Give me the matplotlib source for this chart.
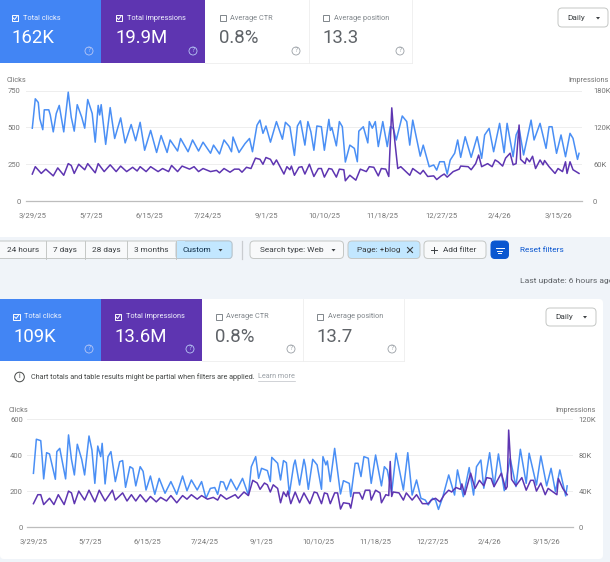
import matplotlib
matplotlib.use("Agg")
import matplotlib.pyplot as plt
from matplotlib.patches import Rectangle, FancyBboxPatch, Circle

plt.rcParams['font.family'] = ['Roboto', 'DejaVu Sans']

date_labels = ["3/29/25", "5/7/25", "6/15/25", "7/24/25", "9/1/25", "10/10/25", "11/18/25", "12/27/25", "2/4/26", "3/15/26"]
date_ticks = [0, 39, 78, 117, 156, 195, 234, 273, 312, 351]

top_clicks_days = [0,2,4,5,7,8,11,12,14,16,18,21,24,26,28,30,33,35,37,40,42,44,45,46,49,52,55,59,62,66,69,72,75,79,83,86,90,92,97,99,104,107,111,114,119,121,125,128,131,133,134,138,142,145,147,150,152,154,156,159,163,167,169,172,175,177,179,182,184,186,188,190,193,195,198,199,200,203,205,207,209,212,215,217,218,221,224,225,227,229,231,234,237,239,241,243,247,250,252,254,259,261,265,268,270,272,275,277,279,282,284,286,289,293,297,300,302,305,308,312,315,317,321,323,325,328,333,335,339,343,345,347,350,353,356,359,361,364,365]
top_clicks_values = [495,695,670,560,485,620,620,585,470,595,650,470,740,570,475,655,570,495,690,595,400,650,585,655,385,635,425,565,395,520,410,535,345,480,330,445,330,415,340,425,335,415,340,400,325,380,320,415,375,335,435,330,390,425,335,515,550,460,510,400,540,420,535,505,310,510,545,380,540,470,345,510,505,345,555,480,500,375,540,505,265,380,358,267,475,505,395,540,495,540,370,540,370,505,495,415,578,540,380,550,305,380,233,245,210,267,267,183,278,325,415,297,437,297,437,290,449,494,335,528,329,528,301,449,494,313,550,415,528,358,505,505,324,449,301,460,426,283,324]

top_impr_days = [0,2,6,9,14,17,21,24,26,28,31,35,37,42,44,48,52,56,59,63,67,70,72,76,79,84,87,91,93,97,100,105,108,111,114,119,123,125,128,132,135,138,140,143,146,149,152,154,156,159,161,163,168,170,172,173,175,178,180,182,185,188,191,193,195,198,200,203,205,208,209,212,216,219,223,225,228,231,233,236,238,240,241,244,246,252,254,259,261,264,268,270,273,275,277,281,285,286,291,293,296,298,300,304,307,309,311,314,316,319,321,323,325,326,329,330,332,334,336,339,341,342,345,349,351,354,356,357,359,361,365]
top_impr_values = [44,56,45,52,41,54,42,61,58,45,60,51,61,46,61,48,59,48,57,48,55,49,56,48,56,48,53,48,58,48,57,52,56,48,53,48,50,46,53,47,52,52,47,55,53,70,68,60,71,68,59,67,44,56,51,57,42,55,56,44,60,40,53,53,39,53,52,39,52,51,33,42,34,52,48,56,55,41,53,52,40,152,121,53,56,42,53,44,50,40,41,35,41,44,39,48,52,57,56,51,61,75,56,61,56,67,64,57,70,78,59,61,124,68,61,70,64,73,53,67,59,66,56,45,53,48,64,45,64,51,45]

bot_clicks_days = [0,2,5,6,7,9,11,13,15,16,18,22,24,26,28,30,33,35,38,40,42,44,46,47,49,51,53,56,59,61,63,66,68,70,73,75,77,80,83,86,90,94,98,102,105,108,112,115,118,121,124,126,128,130,132,135,139,143,147,149,152,154,156,160,162,163,167,169,171,173,175,178,179,182,185,186,188,191,194,197,198,200,201,203,206,210,212,216,217,220,222,224,226,229,231,234,238,240,242,245,248,253,256,259,262,265,268,270,273,275,277,280,284,288,290,294,298,301,303,306,308,312,315,318,322,326,330,333,337,339,344,347,351,354,357,360,364,365]
bot_clicks_values = [299,489,481,383,268,414,407,336,266,420,438,268,513,377,290,461,377,290,507,429,243,451,392,466,240,392,420,253,364,370,221,336,326,229,336,310,206,284,182,271,188,253,182,284,202,262,206,253,160,215,220,182,253,250,206,266,206,271,178,336,392,271,327,314,253,388,355,262,370,358,184,346,373,234,377,340,210,377,346,210,392,346,368,253,438,184,258,243,169,355,355,281,392,383,243,401,229,336,318,191,411,206,414,178,262,160,150,123,160,150,98,169,290,178,318,169,331,178,336,373,216,414,225,407,202,383,225,433,243,411,234,396,229,327,197,318,173,229]

bot_impr_days = [0,3,5,7,11,14,17,21,24,26,28,31,35,38,42,45,49,54,56,61,64,67,70,73,77,80,84,87,91,94,98,102,105,108,112,115,119,123,126,128,132,138,140,144,147,150,153,155,158,160,162,164,167,169,171,173,174,176,179,182,185,189,192,194,197,199,201,203,206,208,210,212,216,217,219,223,225,227,230,231,234,237,238,241,243,244,245,246,250,253,255,259,262,266,270,272,275,278,281,284,286,289,292,293,295,299,302,305,308,310,313,315,318,320,323,324,325,327,330,334,337,340,342,344,347,350,352,358,359,362,365]
bot_impr_values = [26,36,36,25,32,25,36,25,40,38,26,40,30,41,28,41,29,41,30,38,29,36,29,36,28,34,28,33,29,35,27,35,31,36,31,35,31,33,30,36,31,36,32,39,35,52,49,42,49,47,39,47,43,27,39,34,40,26,39,27,38,26,39,38,26,38,37,26,38,38,20,27,26,21,38,38,31,41,41,30,41,38,27,36,35,73,34,39,38,30,38,30,36,26,26,30,32,28,36,41,39,44,42,48,36,60,43,52,46,55,54,45,54,60,42,45,108,53,46,55,41,52,52,40,49,36,43,36,54,43,36]

BLUE = "#4285f4"
PURPLE = "#5e35b1"
LINE_BLUE = "#4a8ff5"
LINE_PURPLE = "#5e35b1"
GRAY = "#757575"
DARK = "#3c4043"
CHIP = 5.95

fig = plt.figure(figsize=(6.10, 5.62), dpi=100, facecolor="white")
ui = fig.add_axes([0, 0, 1, 1], zorder=0)
ui.set_xlim(0, 610)
ui.set_ylim(562, 0)
ui.axis("off")


def rect(x0, y0, x1, y1, fc, ec="none", lw=0.6, z=1):
    ui.add_patch(Rectangle((x0, y0), x1 - x0, y1 - y0, fc=fc, ec=ec, lw=lw, zorder=z))


def chip(x0, y0, x1, y1, fc="#ffffff", ec="#c4c7c5", r=4, z=3):
    ui.add_patch(FancyBboxPatch((x0 + r, y0 + r), x1 - x0 - 2 * r, y1 - y0 - 2 * r,
                                boxstyle=f"round,pad={r},rounding_size={r}", fc=fc, ec=ec, lw=0.7, zorder=z))


def label(x, y, s, size=5.4, color=DARK, ha="left", z=5, **kw):
    ui.text(x, y, s, fontsize=size, color=color, ha=ha, va="center", zorder=z, **kw)


def arrow(x, y, color=DARK):
    ui.fill([x - 2, x + 2, x], [y - 1, y - 1, y + 1.5], color=color, zorder=5, lw=0)


def checkbox(x, y, color, checked):
    ui.add_patch(Rectangle((x - 3.3, y - 3.3), 6.6, 6.6, fc="none", ec=color, lw=0.7, zorder=5))
    if checked:
        ui.plot([x - 1.8, x - 0.4, x + 1.9], [y, y + 1.5, y - 1.5], color=color, lw=0.7, zorder=6)


def help_icon(x, y, color):
    ui.add_patch(Circle((x, y), 4.0, fc="none", ec=color, lw=0.6, zorder=5))
    ui.text(x, y, "?", fontsize=4.8, color=color, ha="center", va="center", zorder=6)


def cards(y0, y1, edges, cy_label, cy_val, names, vals, check_x, lab_x, val_x, help_x, help_y):
    rect(edges[0], y0, edges[1], y1, BLUE)
    rect(edges[1], y0, edges[2], y1, PURPLE)
    rect(edges[2], y0, edges[4], y1, "white", z=1)
    ui.plot([edges[3], edges[3]], [y0, y1], color="#eeeeee", lw=0.6, zorder=2)
    ui.plot([edges[4], edges[4]], [y0, y1], color="#eeeeee", lw=0.6, zorder=2)
    ui.plot([edges[2], edges[4]], [y1, y1], color="#eeeeee", lw=0.6, zorder=2)
    for i in range(4):
        on = i < 2
        c = "white" if on else "#80868b"
        checkbox(check_x[i], cy_label, c, on)
        label(lab_x[i], cy_label, names[i], size=5.3, color="#f1f4fd" if on else "#80868b")
        label(val_x[i], cy_val, vals[i], size=13.4, color="white" if on else "#5f6368")
        help_icon(help_x[i], help_y, "#b8c8f5" if on else "#9aa0a6")


# backgrounds
rect(0, 237, 610, 562, "#f0f4f9", z=0)
ui.add_patch(FancyBboxPatch((4, 303), 595, 252, boxstyle="round,pad=4,rounding_size=4", fc="white", ec="none", zorder=0.5))

names = ["Total clicks", "Total impressions", "Average CTR", "Average position"]
cards(0, 62.5, [0, 101, 205, 308.5, 412], 18, 38, names, ["162K", "19.9M", "0.8%", "13.3"],
      [15, 119, 223, 326], [23, 127, 230, 334], [11.5, 115.5, 219, 323], [89, 193, 296, 400], 51)
cards(299, 361, [0, 101, 202, 303, 404], 317, 337, names, ["109K", "13.6M", "0.8%", "13.7"],
      [16.5, 118, 219, 320], [24.5, 125.5, 226.5, 328], [13.5, 114.5, 215.5, 316], [89, 190, 291, 392], 349)

# Daily buttons
chip(558, 8, 608, 27)
label(567.5, 18, "Daily", size=CHIP)
arrow(598, 18)
chip(546, 308, 596, 326)
label(555.5, 317, "Daily", size=CHIP)
arrow(585, 317)

# date-range segmented control
chip(-4, 241, 232, 258.5, fc="#f8f9fa")
ui.add_patch(FancyBboxPatch((179, 244), 50, 11.5, boxstyle="round,pad=3,rounding_size=3", fc="#c2e7ff", ec="#b5c4cf", lw=0.7, zorder=3.5))
rect(175.5, 241.3, 185, 258.2, "#c2e7ff", z=3.6)
for xd in [46, 84.5, 127, 175.5]:
    ui.plot([xd, xd], [241, 258.5], color="#c4c7c5", lw=0.7, zorder=4)
for cx, s in zip([23, 65, 106, 151, 197], ["24 hours", "7 days", "28 days", "3 months", "Custom"]):
    label(cx, 249.7, s, size=CHIP, ha="center", color="#0b2a44" if s == "Custom" else DARK)
arrow(220.5, 250)
ui.plot([241.5, 241.5], [241, 258.5], color="#c9ccd0", lw=0.9, zorder=2)

# filters
chip(250, 241, 343.5, 258.5, fc="#f8f9fa")
label(259.5, 249.7, "Search type: Web", size=CHIP)
arrow(333.5, 250)
chip(348, 241, 420, 258.5, fc="#c2e7ff")
label(357, 249.7, "Page: +blog", size=CHIP)
ui.plot([407.5, 412.5], [247.5, 252.5], color=DARK, lw=0.8, zorder=5)
ui.plot([407.5, 412.5], [252.5, 247.5], color=DARK, lw=0.8, zorder=5)
chip(424, 241, 486, 258.5, fc="#f8f9fa")
ui.plot([431, 437], [250, 250], color=DARK, lw=0.7, zorder=5)
ui.plot([434, 434], [247, 253], color=DARK, lw=0.7, zorder=5)
label(443, 249.7, "Add filter", size=CHIP)
chip(491, 241, 508.5, 258.5, fc="#0b57d0", ec="#0b57d0")
for yy, hw in [(248, 4), (250.5, 2.8), (253, 1.4)]:
    ui.plot([499.5 - hw, 499.5 + hw], [yy, yy], color="white", lw=0.7, zorder=5)
label(520, 249.7, "Reset filters", size=CHIP, color="#0b57d0")
label(520.5, 281, "Last update: 6 hours ago", size=6.1, color="#5f6368", clip_on=True)

# info note
ui.add_patch(Circle((19.5, 377), 4.8, fc="none", ec="#444746", lw=0.7, zorder=5))
ui.text(19.5, 377, "i", fontsize=5, color="#444746", ha="center", va="center", zorder=6)
label(31, 377, "Chart totals and table results might be partial when filters are applied.", size=5.25, color="#444746")
label(258, 377, "Learn more", size=5.25, color="#9aa0a6")
ui.plot([258, 295], [381, 381], color="#bdc1c6", lw=0.5, zorder=5)


def chart(left, right, top_px, base_px, xlim, ymax, ticks, rmax, rticks, rlabels,
          cd, cv, id_, iv, lbl_y, lbl_x, rlbl_x, xlab_pad, ypad, rpad):
    ax = fig.add_axes([left / 610, 1 - base_px / 562, (right - left) / 610, (base_px - top_px) / 562],
                      zorder=2, facecolor="none")
    ax.set_xlim(*xlim)
    ax.set_ylim(0, ymax)
    ax.set_yticks(ticks)
    ax.set_yticklabels([str(t) for t in ticks])
    ax.set_xticks(date_ticks)
    ax.set_xticklabels(date_labels)
    ax.tick_params(axis="x", length=0, labelsize=5.5, labelcolor=GRAY, pad=xlab_pad)
    ax.tick_params(axis="y", length=0, labelsize=5.5, labelcolor=GRAY, pad=ypad)
    ax.grid(axis="y", color="#eeeeee", lw=0.7)
    ax.set_axisbelow(True)
    for s in ["top", "left", "right"]:
        ax.spines[s].set_visible(False)
    ax.spines["bottom"].set_color("#bdbdbd")
    ax.spines["bottom"].set_linewidth(0.9)
    ax.plot(cd, cv, color=LINE_BLUE, lw=1.1, solid_joinstyle="round", clip_on=False)
    ax2 = ax.twinx()
    ax2.set_ylim(0, rmax)
    ax2.set_yticks(rticks)
    ax2.set_yticklabels(rlabels)
    ax2.tick_params(axis="y", length=0, labelsize=5.5, labelcolor=GRAY, pad=rpad)
    for s in ax2.spines.values():
        s.set_visible(False)
    ax2.plot(id_, iv, color=LINE_PURPLE, lw=1.1, solid_joinstyle="round", clip_on=False)
    label(lbl_x, lbl_y, "Clicks", size=5.3, color=GRAY)
    label(rlbl_x, lbl_y, "Impressions", size=5.3, color=GRAY, ha="right")


chart(26, 582, 90.7, 201, (-4.2, 367), 750, [0, 250, 500, 750], 180, [0, 60, 120, 180],
      ["0", "60K", "120K", "180K"], top_clicks_days, top_clicks_values, top_impr_days, top_impr_values,
      81, 7, 609, 8, 4, 8)
chart(27, 573, 419.3, 527, (-4.4, 369), 600, [0, 200, 400, 600], 120, [0, 40, 80, 120],
      ["0", "40K", "80K", "120K"], bot_clicks_days, bot_clicks_values, bot_impr_days, bot_impr_values,
      410, 9, 595.5, 8, 3, 4)

fig.savefig("out.png", dpi=100)
